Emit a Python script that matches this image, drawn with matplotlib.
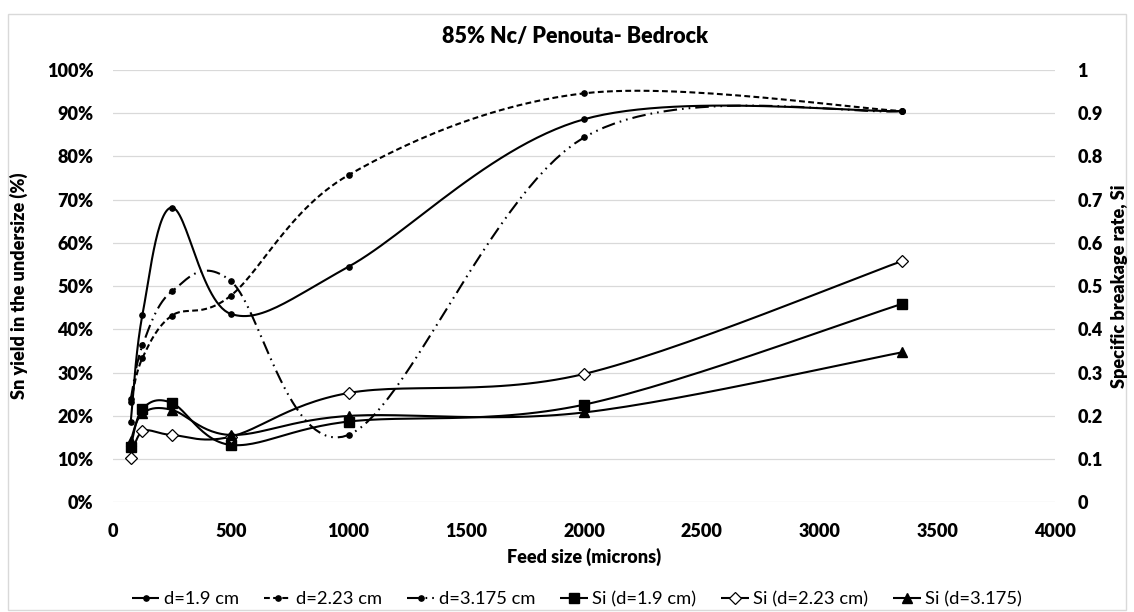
import matplotlib
matplotlib.use("Agg")
import matplotlib.pyplot as plt
import numpy as np
from matplotlib.patches import Rectangle
from matplotlib.ticker import FuncFormatter, MultipleLocator

OUT_PATH = "out.png"

FONT = "Lato"
BOLD = "heavy"
TEXT_COLOR = "#000000"
GRID_COLOR = "#d9d9d9"

# feed size classes (microns)
FEED_SIZE = [75, 125, 250, 500, 1000, 2000, 3350]

# Sn yield in the undersize (%)
YIELD_19   = [18.5, 43.4, 68.2, 43.6, 54.5, 88.6, 90.5]
YIELD_223  = [23.2, 33.4, 43.2, 47.8, 75.7, 94.6, 90.5]
YIELD_3175 = [23.8, 36.3, 48.8, 51.2, 15.6, 84.4, 90.5]

# specific breakage rate Si
SI_19   = [0.127, 0.216, 0.230, 0.133, 0.187, 0.226, 0.459]
SI_223  = [0.102, 0.164, 0.156, 0.152, 0.253, 0.297, 0.558]
SI_3175 = [0.142, 0.206, 0.214, 0.156, 0.200, 0.208, 0.347]

X_MAX = 4000
FIG_W, FIG_H = 1134, 612
AX_RECT = [113 / FIG_W, 1 - 502.4 / FIG_H, 942 / FIG_W, 432.4 / FIG_H]
SEG_PTS = 30


def smooth(x, y, y_max):
    """Excel-style smoothed line: cubic Bezier segments, tangents (P[i+1]-P[i-1])/6,
    evaluated in screen proportions so the curve bends like the spreadsheet one."""
    w, h = AX_RECT[2] * FIG_W, AX_RECT[3] * FIG_H
    P = np.column_stack([np.asarray(x, float) / X_MAX * w,
                         np.asarray(y, float) / y_max * h])
    ext = np.vstack([P[0], P, P[-1]])
    t = np.linspace(0, 1, SEG_PTS)[1:, None]
    parts = [P[:1]]
    for i in range(len(P) - 1):
        p0, p3 = ext[i + 1], ext[i + 2]
        c1 = p0 + (ext[i + 2] - ext[i]) / 6.0
        c2 = p3 - (ext[i + 3] - ext[i + 1]) / 6.0
        parts.append((1 - t) ** 3 * p0 + 3 * (1 - t) ** 2 * t * c1
                     + 3 * (1 - t) * t ** 2 * c2 + t ** 3 * p3)
    pts = np.vstack(parts)
    return pts[:, 0] / w * X_MAX, pts[:, 1] / h * y_max


def draw_series(ax, x, y, y_max, label, dashes=None, **marker_kw):
    sx, sy = smooth(x, y, y_max)
    line, = ax.plot(sx, sy, color="black", linewidth=1.5, label=label,
                    markevery=list(range(0, len(sx), SEG_PTS - 1)),
                    solid_capstyle="butt", dash_capstyle="butt", **marker_kw)
    if dashes is not None:
        line.set_dashes(dashes)
    return line


def main():
    plt.rcParams["font.family"] = [FONT, "DejaVu Sans"]

    fig = plt.figure(figsize=(FIG_W / 100, FIG_H / 100), dpi=100)
    fig.patch.set_facecolor("white")
    fig.patches.append(Rectangle((7.5 / FIG_W, 2 / FIG_H), 1118 / FIG_W, 596 / FIG_H,
                                 transform=fig.transFigure, fill=False,
                                 edgecolor=GRID_COLOR, linewidth=1.0))

    ax = fig.add_axes(AX_RECT)
    ax2 = ax.twinx()

    ax.set_xlim(0, X_MAX)
    ax.set_ylim(0, 100)
    ax2.set_ylim(0, 1)

    ax.xaxis.set_major_locator(MultipleLocator(500))
    ax.yaxis.set_major_locator(MultipleLocator(10))
    ax2.yaxis.set_major_locator(MultipleLocator(0.1))
    ax.yaxis.set_major_formatter(FuncFormatter(lambda v, _: f"{v:.0f}%"))
    ax2.yaxis.set_major_formatter(FuncFormatter(lambda v, _: f"{v:.1f}".rstrip("0").rstrip(".") if v else "0"))

    ax.grid(axis="y", color=GRID_COLOR, linewidth=0.9)
    ax.set_axisbelow(True)
    for a in (ax, ax2):
        for s in a.spines.values():
            s.set_visible(False)
    ax.tick_params(axis="both", length=0, labelsize=13, colors=TEXT_COLOR)
    ax.tick_params(axis="x", pad=15)
    ax.tick_params(axis="y", pad=14)
    ax2.tick_params(axis="y", length=0, labelsize=13, colors=TEXT_COLOR, pad=16)
    for lab in ax.get_xticklabels() + ax.get_yticklabels() + ax2.get_yticklabels():
        lab.set_fontweight(BOLD)

    dot = dict(marker="o", markersize=3.8, markerfacecolor="black", markeredgecolor="black")
    h1 = draw_series(ax, FEED_SIZE, YIELD_19, 100, "d=1.9 cm", **dot)
    h2 = draw_series(ax, FEED_SIZE, YIELD_223, 100, "d=2.23 cm", dashes=(2.8, 1.6), **dot)
    h3 = draw_series(ax, FEED_SIZE, YIELD_3175, 100, "d=3.175 cm",
                     dashes=(6.5, 2.4, 0.8, 2.4, 0.8, 2.4), **dot)

    h4 = draw_series(ax2, FEED_SIZE, SI_19, 1, "Si (d=1.9 cm)", marker="s", markersize=7.5,
                     markerfacecolor="black", markeredgecolor="black")
    h5 = draw_series(ax2, FEED_SIZE, SI_223, 1, "Si (d=2.23 cm)", marker="D", markersize=6,
                     markerfacecolor="white", markeredgecolor="black", markeredgewidth=0.9)
    h6 = draw_series(ax2, FEED_SIZE, SI_3175, 1, "Si (d=3.175)", marker="^", markersize=7.5,
                     markerfacecolor="black", markeredgecolor="black")

    fig.text(575.5 / FIG_W, 1 - 37 / FIG_H, "85% Nc/ Penouta- Bedrock", ha="center", va="center",
             fontsize=15.5, fontweight=BOLD, color=TEXT_COLOR)
    fig.text(584 / FIG_W, 1 - 557 / FIG_H, "Feed size (microns)", ha="center", va="center",
             fontsize=13, fontweight=BOLD, color=TEXT_COLOR)
    fig.text(19 / FIG_W, 1 - 286 / FIG_H, "Sn yield in the undersize (%)", ha="center", va="center",
             rotation=90, fontsize=13, fontweight=BOLD, color=TEXT_COLOR)
    fig.text(1120 / FIG_W, 1 - 286 / FIG_H, "Specific breakage rate, Si", ha="center", va="center",
             rotation=90, fontsize=13, fontweight=BOLD, color=TEXT_COLOR)

    fig.legend(handles=[h1, h2, h3, h4, h5, h6], loc="center",
               bbox_to_anchor=(577 / FIG_W, 1 - 599 / FIG_H), ncol=6, frameon=False,
               fontsize=13.2, handlelength=1.5, handletextpad=0.25, columnspacing=1.35,
               borderaxespad=0)

    fig.savefig(OUT_PATH, dpi=100, facecolor=fig.get_facecolor())
    plt.close(fig)


if __name__ == "__main__":
    main()
